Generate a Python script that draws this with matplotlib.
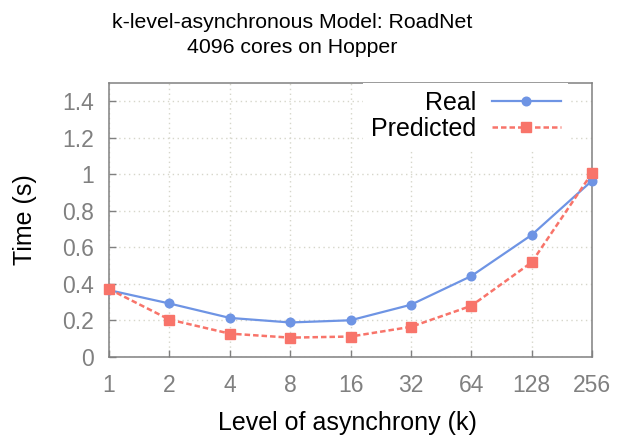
import matplotlib
matplotlib.use("Agg")
import matplotlib.pyplot as plt

plt.rcParams['font.family'] = ['Liberation Sans', 'DejaVu Sans']

levels = ["1", "2", "4", "8", "16", "32", "64", "128", "256"]
real = [0.366, 0.293, 0.214, 0.189, 0.201, 0.286, 0.443, 0.668, 0.965]
predicted = [0.372, 0.205, 0.128, 0.106, 0.112, 0.165, 0.280, 0.518, 1.007]
yticks = [0, 0.2, 0.4, 0.6, 0.8, 1.0, 1.2, 1.4]
ytick_labels = ["0", "0.2", "0.4", "0.6", "0.8", "1", "1.2", "1.4"]

blue = "#6e94e4"
red = "#f8746a"
frame = "#808080"

W, H = 621, 440
fig = plt.figure(figsize=(W / 100, H / 100), dpi=100)
ax = fig.add_axes([109 / W, 1 - 357 / H, (592 - 109) / W, (357 - 83) / H])

x = list(range(len(levels)))
ax.plot(x, real, color=blue, lw=1.6, marker="o", ms=6.2, label="Real",
        clip_on=False, zorder=3)
ax.plot(x, predicted, color=red, lw=1.8, ls=(0, (2.2, 1.2)), marker="s",
        ms=6.8, label="Predicted", clip_on=False, zorder=3)

ax.set_xlim(0, len(levels) - 1)
ax.set_ylim(0, 1.5)
ax.set_xticks(x)
ax.set_xticklabels(levels)
ax.set_yticks(yticks)
ax.set_yticklabels(ytick_labels)

ax.grid(True, color="#d6d6ca", ls=(0, (1, 2.5)), lw=1)
ax.set_axisbelow(True)

for s in ax.spines.values():
    s.set_color(frame)
    s.set_linewidth(1.1)

ax.tick_params(direction="in", length=5, width=1, color=frame,
               labelcolor="#808080", labelsize=16.5,
               top=False, right=False)
ax.tick_params(axis="x", pad=12)
ax.tick_params(axis="y", pad=11)

# axis titles and two-line heading
fig.text(347 / W, 1 - 430 / H, "Level of asynchrony (k)", fontsize=18,
         ha="center", va="baseline")
fig.text(25 / W, 1 - 220 / H, "Time (s)", fontsize=18, rotation=90,
         ha="center", va="center")
fig.text(292.5 / W, 1 - 28 / H, "k-level-asynchronous Model: RoadNet",
         fontsize=15.3, ha="center", va="baseline")
fig.text(292.5 / W, 1 - 53 / H, "4096 cores on Hopper",
         fontsize=15.3, ha="center", va="baseline")

leg = ax.legend(loc="upper right", bbox_to_anchor=(0.951, 1.0),
                markerfirst=False, frameon=True, fancybox=False,
                fontsize=18, handlelength=2.76, handletextpad=0.64,
                labelspacing=0.1, borderpad=0.3, borderaxespad=0.0)
leg.get_frame().set_facecolor("white")
leg.get_frame().set_edgecolor("none")
leg.get_frame().set_alpha(1)
leg._legend_box.align = "right"

fig.savefig("out.png", dpi=100)
